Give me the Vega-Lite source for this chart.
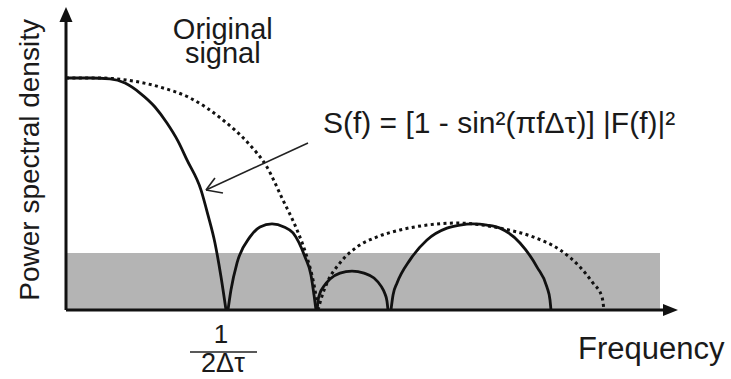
{
  "$schema": "https://vega.github.io/schema/vega-lite/v6.json",
  "width": 731,
  "height": 379,
  "autosize": "none",
  "padding": 0,
  "background": "white",
  "config": {"view": {"stroke": null}, "font": "Liberation Sans"},
  "datasets": {
    "spectrum": [
      {"f": 0.0, "p": 1.0, "lobe": 1},
      {"f": 0.15, "p": 1.0, "lobe": 1},
      {"f": 0.275, "p": 0.996, "lobe": 1},
      {"f": 0.369, "p": 0.978, "lobe": 1},
      {"f": 0.4625, "p": 0.935, "lobe": 1},
      {"f": 0.556, "p": 0.875, "lobe": 1},
      {"f": 0.631, "p": 0.806, "lobe": 1},
      {"f": 0.7, "p": 0.728, "lobe": 1},
      {"f": 0.756, "p": 0.647, "lobe": 1},
      {"f": 0.844, "p": 0.517, "lobe": 1},
      {"f": 0.8875, "p": 0.409, "lobe": 1},
      {"f": 0.931, "p": 0.289, "lobe": 1},
      {"f": 0.969, "p": 0.142, "lobe": 1},
      {"f": 1.0, "p": 0.0, "lobe": 1},
      {"f": 1.0125, "p": 0.0, "lobe": 2},
      {"f": 1.031, "p": 0.086, "lobe": 2},
      {"f": 1.069, "p": 0.203, "lobe": 2},
      {"f": 1.15, "p": 0.315, "lobe": 2},
      {"f": 1.2125, "p": 0.358, "lobe": 2},
      {"f": 1.2875, "p": 0.371, "lobe": 2},
      {"f": 1.3625, "p": 0.358, "lobe": 2},
      {"f": 1.419, "p": 0.332, "lobe": 2},
      {"f": 1.494, "p": 0.228, "lobe": 2},
      {"f": 1.531, "p": 0.151, "lobe": 2},
      {"f": 1.55, "p": 0.065, "lobe": 2},
      {"f": 1.5625, "p": 0.0, "lobe": 2},
      {"f": 1.569, "p": 0.0, "lobe": 3},
      {"f": 1.575, "p": 0.039, "lobe": 3},
      {"f": 1.5875, "p": 0.073, "lobe": 3},
      {"f": 1.6125, "p": 0.103, "lobe": 3},
      {"f": 1.65, "p": 0.134, "lobe": 3},
      {"f": 1.7125, "p": 0.159, "lobe": 3},
      {"f": 1.7875, "p": 0.168, "lobe": 3},
      {"f": 1.8625, "p": 0.159, "lobe": 3},
      {"f": 1.925, "p": 0.138, "lobe": 3},
      {"f": 1.969, "p": 0.103, "lobe": 3},
      {"f": 1.994, "p": 0.069, "lobe": 3},
      {"f": 2.006, "p": 0.039, "lobe": 3},
      {"f": 2.0125, "p": 0.0, "lobe": 3},
      {"f": 2.031, "p": 0.0, "lobe": 4},
      {"f": 2.044, "p": 0.065, "lobe": 4},
      {"f": 2.069, "p": 0.116, "lobe": 4},
      {"f": 2.15, "p": 0.216, "lobe": 4},
      {"f": 2.256, "p": 0.302, "lobe": 4},
      {"f": 2.381, "p": 0.353, "lobe": 4},
      {"f": 2.4625, "p": 0.366, "lobe": 4},
      {"f": 2.544, "p": 0.371, "lobe": 4},
      {"f": 2.631, "p": 0.366, "lobe": 4},
      {"f": 2.7125, "p": 0.353, "lobe": 4},
      {"f": 2.8375, "p": 0.289, "lobe": 4},
      {"f": 2.944, "p": 0.185, "lobe": 4},
      {"f": 3.006, "p": 0.099, "lobe": 4},
      {"f": 3.025, "p": 0.043, "lobe": 4},
      {"f": 3.031, "p": 0.0, "lobe": 4}
    ],
    "original": [
      {"f": 0.0, "p": 1.0, "lobe": 1},
      {"f": 0.2125, "p": 1.0, "lobe": 1},
      {"f": 0.381, "p": 0.991, "lobe": 1},
      {"f": 0.5875, "p": 0.961, "lobe": 1},
      {"f": 0.775, "p": 0.914, "lobe": 1},
      {"f": 0.981, "p": 0.819, "lobe": 1},
      {"f": 1.1375, "p": 0.72, "lobe": 1},
      {"f": 1.256, "p": 0.616, "lobe": 1},
      {"f": 1.356, "p": 0.474, "lobe": 1},
      {"f": 1.444, "p": 0.345, "lobe": 1},
      {"f": 1.506, "p": 0.228, "lobe": 1},
      {"f": 1.544, "p": 0.129, "lobe": 1},
      {"f": 1.5625, "p": 0.06, "lobe": 1},
      {"f": 1.575, "p": 0.0, "lobe": 1},
      {"f": 1.575, "p": 0.0, "lobe": 2},
      {"f": 1.6, "p": 0.06, "lobe": 2},
      {"f": 1.631, "p": 0.116, "lobe": 2},
      {"f": 1.7125, "p": 0.203, "lobe": 2},
      {"f": 1.819, "p": 0.272, "lobe": 2},
      {"f": 1.944, "p": 0.315, "lobe": 2},
      {"f": 2.0875, "p": 0.345, "lobe": 2},
      {"f": 2.256, "p": 0.366, "lobe": 2},
      {"f": 2.444, "p": 0.375, "lobe": 2},
      {"f": 2.544, "p": 0.371, "lobe": 2},
      {"f": 2.7125, "p": 0.353, "lobe": 2},
      {"f": 2.919, "p": 0.315, "lobe": 2},
      {"f": 3.0875, "p": 0.259, "lobe": 2},
      {"f": 3.2125, "p": 0.185, "lobe": 2},
      {"f": 3.294, "p": 0.116, "lobe": 2},
      {"f": 3.35, "p": 0.056, "lobe": 2},
      {"f": 3.3625, "p": 0.0, "lobe": 2}
    ],
    "noiseBand": [{"f0": 0.0, "f1": 3.7125, "p0": 0.0, "p1": 0.246}],
    "axisLines": [
      {"f0": 0.0, "p0": 0.0, "f1": 0.0, "p1": 1.27},
      {"f0": 0.0, "p0": 0.0, "f1": 3.76, "p1": 0.0}
    ],
    "pointer": [
      {"f0": 1.5125, "p0": 0.72, "f1": 0.875, "p1": 0.517},
      {"f0": 0.875, "p0": 0.517, "f1": 0.931, "p1": 0.569},
      {"f0": 0.875, "p0": 0.517, "f1": 0.981, "p1": 0.504}
    ],
    "fractionBar": [{"f0": 0.775, "f1": 1.194, "p0": -0.181}]
  },
  "layer": [
    {
      "data": {"name": "noiseBand"},
      "mark": {"type": "rect", "color": "#b4b4b4"},
      "encoding": {
        "x": {"field": "f0", "type": "quantitative", "scale": {"domain": [-0.4125, 4.15625], "nice": false, "zero": false}, "axis": null},
        "x2": {"field": "f1"},
        "y": {"field": "p0", "type": "quantitative", "scale": {"domain": [-0.2974, 1.3362], "nice": false, "zero": false}, "axis": null},
        "y2": {"field": "p1"}
      }
    },
    {
      "data": {"name": "original"},
      "mark": {"type": "line", "color": "#111111", "strokeWidth": 3, "strokeDash": [3, 3.4], "strokeCap": "butt", "interpolate": "monotone"},
      "encoding": {
        "x": {"field": "f", "type": "quantitative", "axis": null},
        "y": {"field": "p", "type": "quantitative", "axis": null},
        "detail": {"field": "lobe"},
        "order": {"field": "f"}
      }
    },
    {
      "data": {"name": "spectrum"},
      "mark": {"type": "line", "color": "#111111", "strokeWidth": 2.8, "interpolate": "monotone"},
      "encoding": {
        "x": {"field": "f", "type": "quantitative", "axis": null},
        "y": {"field": "p", "type": "quantitative", "axis": null},
        "detail": {"field": "lobe"},
        "order": {"field": "f"}
      }
    },
    {
      "data": {"name": "axisLines"},
      "mark": {"type": "rule", "color": "#111111", "strokeWidth": 3},
      "encoding": {
        "x": {"field": "f0", "type": "quantitative", "axis": null},
        "x2": {"field": "f1"},
        "y": {"field": "p0", "type": "quantitative", "axis": null},
        "y2": {"field": "p1"}
      }
    },
    {
      "data": {"values": [{"f": 0.0, "p": 1.274}]},
      "mark": {"type": "point", "shape": "M0,-1L-0.87,1L0.87,1Z", "size": 225, "filled": true, "color": "#111111", "opacity": 1},
      "encoding": {
        "x": {"field": "f", "type": "quantitative", "axis": null},
        "y": {"field": "p", "type": "quantitative", "axis": null}
      }
    },
    {
      "data": {"values": [{"f": 3.778, "p": 0.0}]},
      "mark": {"type": "point", "shape": "M1,0L-1,-0.8L-1,0.8Z", "size": 225, "filled": true, "color": "#111111", "opacity": 1},
      "encoding": {
        "x": {"field": "f", "type": "quantitative", "axis": null},
        "y": {"field": "p", "type": "quantitative", "axis": null}
      }
    },
    {
      "data": {"name": "pointer"},
      "mark": {"type": "rule", "color": "#222222", "strokeWidth": 1.6},
      "encoding": {
        "x": {"field": "f0", "type": "quantitative", "axis": null},
        "x2": {"field": "f1"},
        "y": {"field": "p0", "type": "quantitative", "axis": null},
        "y2": {"field": "p1"}
      }
    },
    {
      "data": {"name": "fractionBar"},
      "mark": {"type": "rule", "color": "#222222", "strokeWidth": 1.5},
      "encoding": {
        "x": {"field": "f0", "type": "quantitative", "axis": null},
        "x2": {"field": "f1"},
        "y": {"field": "p0", "type": "quantitative", "axis": null}
      }
    },
    {
      "data": {"values": [{"f": 0.98, "p": 1.168, "text": "Original\nsignal"}]},
      "mark": {"type": "text", "align": "center", "baseline": "alphabetic", "fontSize": 29, "lineBreak": "\n", "lineHeight": 24, "color": "#1a1a1a"},
      "encoding": {
        "x": {"field": "f", "type": "quantitative", "axis": null},
        "y": {"field": "p", "type": "quantitative", "axis": null},
        "text": {"field": "text"}
      }
    },
    {
      "data": {"values": [{"f": 1.606, "p": 0.763, "text": "S(f) = [1 - sin²(πfΔτ)] |F(f)|²"}]},
      "mark": {"type": "text", "align": "left", "baseline": "alphabetic", "fontSize": 30, "color": "#1a1a1a"},
      "encoding": {
        "x": {"field": "f", "type": "quantitative", "axis": null},
        "y": {"field": "p", "type": "quantitative", "axis": null},
        "text": {"field": "text"}
      }
    },
    {
      "data": {"values": [{"f": 0.969, "p": -0.142, "text": "1"}]},
      "mark": {"type": "text", "align": "center", "baseline": "alphabetic", "fontSize": 26, "color": "#1a1a1a"},
      "encoding": {
        "x": {"field": "f", "type": "quantitative", "axis": null},
        "y": {"field": "p", "type": "quantitative", "axis": null},
        "text": {"field": "text"}
      }
    },
    {
      "data": {"values": [{"f": 0.981, "p": -0.267, "text": "2Δτ"}]},
      "mark": {"type": "text", "align": "center", "baseline": "alphabetic", "fontSize": 27, "color": "#1a1a1a"},
      "encoding": {
        "x": {"field": "f", "type": "quantitative", "axis": null},
        "y": {"field": "p", "type": "quantitative", "axis": null},
        "text": {"field": "text"}
      }
    },
    {
      "data": {"values": [{"f": 3.2, "p": -0.211, "text": "Frequency"}]},
      "mark": {"type": "text", "align": "left", "baseline": "alphabetic", "fontSize": 31, "color": "#1a1a1a"},
      "encoding": {
        "x": {"field": "f", "type": "quantitative", "axis": null},
        "y": {"field": "p", "type": "quantitative", "axis": null},
        "text": {"field": "text"}
      }
    },
    {
      "data": {"values": [{"f": -0.169, "p": 0.647, "text": "Power spectral density"}]},
      "mark": {"type": "text", "angle": 270, "align": "center", "baseline": "alphabetic", "fontSize": 28, "color": "#1a1a1a"},
      "encoding": {
        "x": {"field": "f", "type": "quantitative", "axis": null},
        "y": {"field": "p", "type": "quantitative", "axis": null},
        "text": {"field": "text"}
      }
    }
  ]
}
